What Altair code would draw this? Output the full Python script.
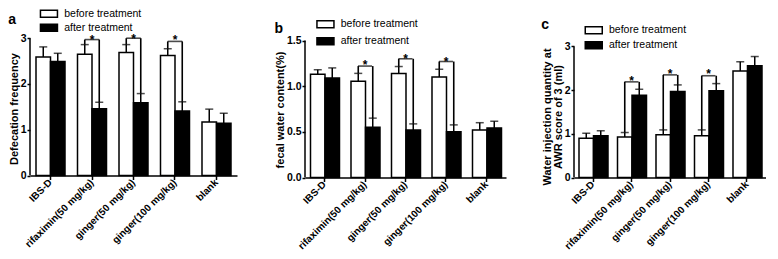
import altair as alt
import pandas as pd

groups = ["IBS-D", "rifaximin(50 mg/kg)", "ginger(50 mg/kg)", "ginger(100 mg/kg)", "blank"]
series = ["before treatment", "after treatment"]
sig_groups = groups[1:4]

# Panel a: defecation frequency
a_before = [2.59, 2.65, 2.69, 2.62, 1.17]
a_before_err = [0.22, 0.21, 0.17, 0.15, 0.28]
a_after = [2.49, 1.46, 1.59, 1.41, 1.14]
a_after_err = [0.18, 0.14, 0.20, 0.20, 0.22]
a_bracket = [2.97, 3.00, 2.93]
a_star = [3.07, 3.10, 3.06]

# Panel b: fecal water content
b_before = [1.13, 1.055, 1.14, 1.10, 0.52]
b_before_err = [0.05, 0.085, 0.075, 0.085, 0.08]
b_after = [1.09, 0.55, 0.52, 0.50, 0.543]
b_after_err = [0.11, 0.10, 0.067, 0.076, 0.073]
b_bracket = [1.22, 1.30, 1.27]
b_star = [1.29, 1.35, 1.32]

# Panel c: water injection quantity
c_before = [0.90, 0.93, 0.98, 0.955, 2.44]
c_before_err = [0.115, 0.10, 0.11, 0.135, 0.21]
c_after = [0.955, 1.885, 1.97, 1.985, 2.56]
c_after_err = [0.115, 0.135, 0.15, 0.165, 0.21]
c_bracket = [2.19, 2.35, 2.33]
c_star = [2.32, 2.48, 2.48]

FONT = "Liberation Sans"
LEG_PATH = "M-2.125,-0.875H2.125V0.875H-2.125Z"


def bar_table(before, before_err, after, after_err):
    rows = []
    for g, v, e in zip(groups, before, before_err):
        rows.append({"group": g, "series": series[0], "value": v, "top": v + e})
    for g, v, e in zip(groups, after, after_err):
        rows.append({"group": g, "series": series[1], "value": v, "top": v + e})
    return pd.DataFrame(rows)


def bracket_table(before, before_err, after, after_err, level, star):
    legs, tops = [], []
    for i, g in enumerate(sig_groups):
        k = groups.index(g)
        legs.append({"group": g, "series": series[0], "low": before[k] + before_err[k], "high": level[i]})
        legs.append({"group": g, "series": series[1], "low": after[k] + after_err[k], "high": level[i]})
        tops.append({"group": g, "level": level[i], "star": star[i], "sig": "*"})
    return pd.DataFrame(legs), pd.DataFrame(tops)


def panel(before, before_err, after, after_err, level, star, ytop, ymax, ticks, fmt,
          ytitle, title_y, letter, title_dy, width, height, pi, po, barw, legx, legy, rowpad):
    df = bar_table(before, before_err, after, after_err)
    legs, tops = bracket_table(before, before_err, after, after_err, level, star)
    xaxis = alt.Axis(title=None, labelAngle=-45, labelAlign="right", labelBaseline="middle",
                     labelFontWeight="bold", labelFontSize=10, labelColor="black", labelPadding=1,
                     tickSize=4, tickWidth=1.5, tickColor="black", domainColor="black",
                     domainWidth=1.5, grid=False)
    xenc = alt.X("group:N", sort=groups, scale=alt.Scale(paddingInner=pi, paddingOuter=po), axis=xaxis)
    xoff = alt.XOffset("series:N", sort=series, scale=alt.Scale(paddingInner=0, paddingOuter=0))
    yscale = alt.Scale(domain=[0, ymax], nice=False, zero=True)
    yaxis = alt.Axis(title=ytitle, values=ticks, format=fmt, domain=False, grid=False,
                     tickSize=3, tickWidth=1.5, tickColor="black", labelFontWeight="bold",
                     labelFontSize=10.5, labelColor="black", labelPadding=1,
                     titleFontSize=11, titleFontWeight="bold", titleColor="black",
                     titlePadding=1, titleY=title_y, titleLineHeight=11)
    legend = alt.Legend(title=None, orient="none", legendX=legx, legendY=legy,
                        symbolType=LEG_PATH, symbolSize=64, symbolStrokeColor="black",
                        symbolStrokeWidth=1.5, labelFont=FONT, labelFontSize=10.5,
                        labelColor="black", labelOffset=10, rowPadding=rowpad, padding=0)
    base = alt.Chart(df)
    bars = base.mark_bar(stroke="black", strokeWidth=1.5).encode(
        x=xenc, xOffset=xoff,
        y=alt.Y("value:Q", scale=yscale, axis=yaxis, stack=None),
        color=alt.Color("series:N", sort=series,
                        scale=alt.Scale(domain=series, range=["white", "black"]), legend=legend),
    )
    err = base.mark_rule(color="black", strokeWidth=1.5).encode(
        x=xenc, xOffset=xoff, y=alt.Y("value:Q", scale=yscale), y2="top:Q")
    cap = base.mark_tick(color="black", size=8, thickness=1.5, orient="horizontal").encode(
        x=xenc, xOffset=xoff, y=alt.Y("top:Q", scale=yscale))
    leg_rules = alt.Chart(legs).mark_rule(color="black", strokeWidth=1.6).encode(
        x=xenc, xOffset=xoff, y=alt.Y("low:Q", scale=yscale), y2="high:Q")
    cross = alt.Chart(tops).mark_tick(color="black", size=barw, thickness=1.6,
                                      orient="horizontal").encode(
        x=xenc, y=alt.Y("level:Q", scale=yscale))
    stars = alt.Chart(tops).mark_text(font=FONT, fontSize=12, fontWeight="bold",
                                      baseline="middle", color="black", dy=5).encode(
        x=xenc, y=alt.Y("star:Q", scale=yscale), text="sig:N")
    axis_line = alt.Chart(pd.DataFrame({"y0": [0], "y1": [ytop]})).mark_rule(
        color="black", strokeWidth=1.5).encode(
        x=alt.value(0), y=alt.Y("y0:Q", scale=yscale), y2="y1:Q")
    return alt.layer(bars, err, cap, leg_rules, cross, stars, axis_line).properties(
        width=width, height=height,
        title=alt.TitleParams(text=letter, anchor="start", frame="bounds", font=FONT,
                              fontSize=14, fontWeight="bold", color="black", offset=0,
                              dy=title_dy),
    )


pa = panel(a_before, a_before_err, a_after, a_after_err, a_bracket, a_star,
           3, 3.048, [0, 1, 2, 3], "d", "Defecation frequency", 72.5, "a", 18,
           207, 139.5, 0.3012, 0.1446, 14.5, 13.7, -27.5, 0)
pb = panel(b_before, b_before_err, b_after, b_after_err, b_bracket, b_star,
           1.5, 1.5493, [0, 0.5, 1.0, 1.5], ".1f", "fecal water content(%)", 73.5, "b", 16.5,
           201, 141.5, 0.3086, 0.1358, 14, 15.2, -17, 3)
pc = panel(c_before, c_before_err, c_after, c_after_err, c_bracket, c_star,
           3, 3.240, [0, 1, 2, 3], "d", ["Water injection quantity at", "AWR score of 3 (ml)"],
           80.5, "c", 7, 192, 141.5, 0.2727, 0.1299, 14, 14.5, -11, 1)

chart = alt.hconcat(pa, pb, pc, spacing=68, bounds="flush").resolve_scale(
    color="independent", x="independent", y="independent"
).properties(
    padding={"left": 0, "top": 0, "right": 0, "bottom": 0}, background="white"
).configure_view(stroke=None).configure_axis(labelFont=FONT, titleFont=FONT)

chart.save("out.html", embed_options={"renderer": "svg", "actions": False})
